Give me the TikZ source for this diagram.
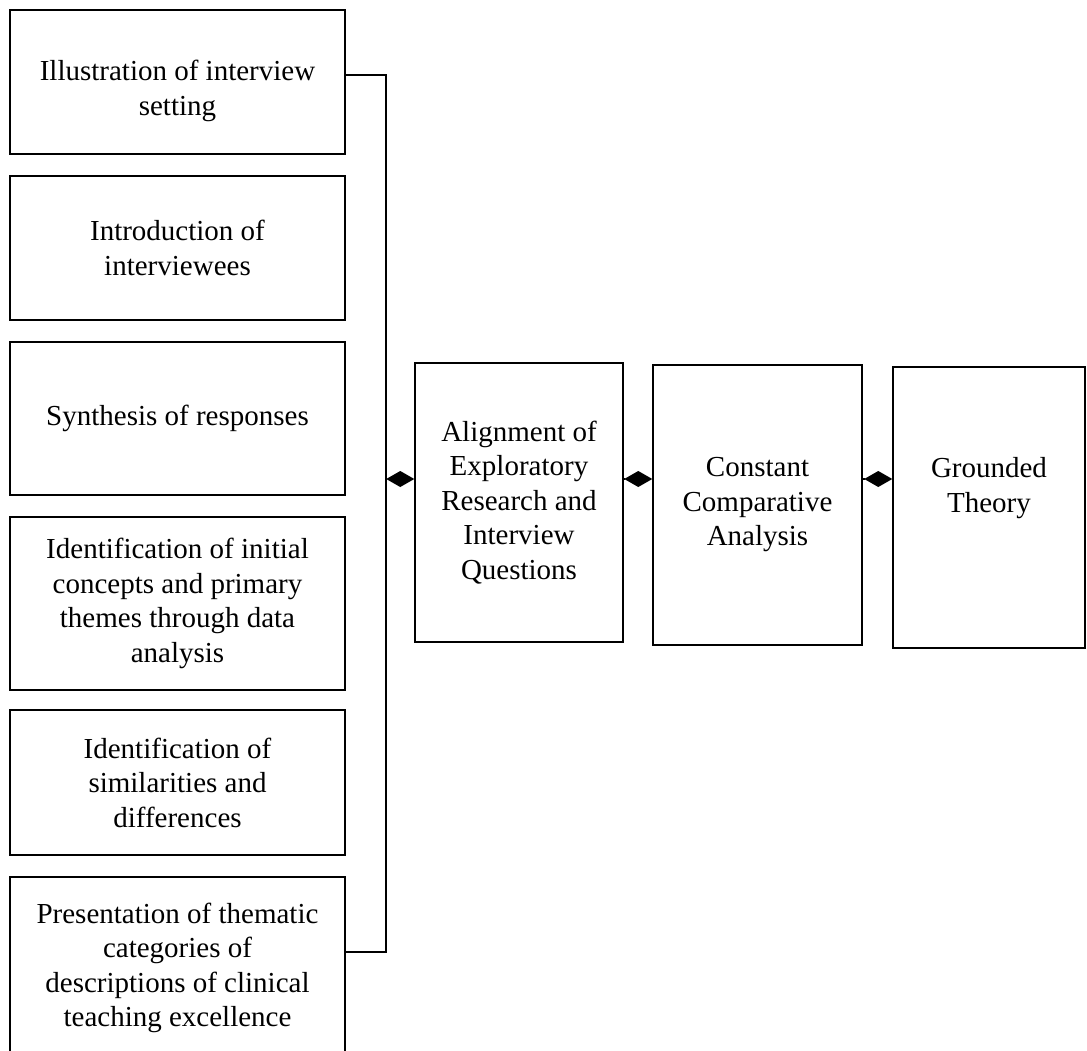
\documentclass[tikz,border=0pt]{standalone}
\usepackage{fontspec}
\setmainfont{Liberation Serif}
\usetikzlibrary{arrows.meta}
\tikzset{
  boxnode/.style={draw, line width=1.5pt, align=center, inner sep=0pt,
    font=\fontsize{29}{34.5}\selectfont},
  wire/.style={line width=1.5pt},
  diamondlink/.style={line width=1.2pt, -{Diamond[length=28pt,width=16pt]}}
}
\begin{document}
\begin{tikzpicture}[x=1pt,y=-1pt]
\useasboundingbox (0,0) rectangle (1087,1051);
\clip (0,0) rectangle (1087,1051);
\fill[white] (0,0) rectangle (1087,1051);
% left column
\node[boxnode, minimum width=335pt, minimum height=144pt] (b1) at (177.5,82) {\strut\\[-20pt]Illustration of interview\\setting};
\node[boxnode, minimum width=335pt, minimum height=144pt] (b2) at (177.5,248) {Introduction of\\interviewees};
\node[boxnode, minimum width=335pt, minimum height=153pt] (b3) at (177.5,418.5) {Synthesis of responses};
\node[boxnode, minimum width=335pt, minimum height=173pt] (b4) at (177.5,603.5) {Identification of initial\\concepts and primary\\themes through data\\analysis};
\node[boxnode, minimum width=335pt, minimum height=145pt] (b5) at (177.5,782.5) {Identification of\\similarities and\\differences};
\node[boxnode, minimum width=335pt, minimum height=182pt] (b6) at (177.5,968) {Presentation of thematic\\categories of\\descriptions of clinical\\teaching excellence};
% right boxes
\node[boxnode, minimum width=208pt, minimum height=279pt] (al) at (519,502.5) {Alignment of\\Exploratory\\Research and\\Interview\\Questions};
\node[boxnode, minimum width=209pt, minimum height=280pt] (cc) at (757.5,505) {Constant\\Comparative\\Analysis};
\node[boxnode, minimum width=192pt, minimum height=281pt] (gt) at (989,507.5) {Grounded\\Theory\\\strut};
% bracket
\coordinate (top) at (386,75);
\coordinate (bot) at (386,952);
\coordinate (j) at (386,479);
\draw[wire] (b1.east |- top) -- (top) -- (bot) -- (b6.east |- bot);
% diamond links
\draw[diamondlink] (j) -- (al.west |- j);
\draw[diamondlink] (al.east |- j) -- (cc.west |- j);
\draw[diamondlink] (cc.east |- j) -- (gt.west |- j);
\end{tikzpicture}
\end{document}
